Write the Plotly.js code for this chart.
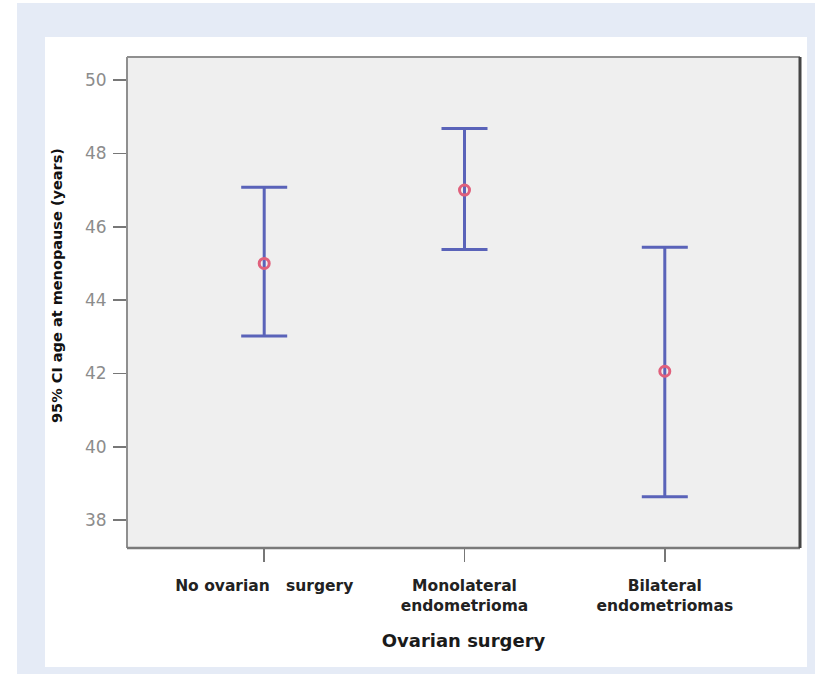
<!DOCTYPE html>
<html>
<head>
<meta charset="utf-8">
<script src="https://cdn.plot.ly/plotly-3.0.1.min.js"></script>
<style>html,body{margin:0;padding:0;background:#fff;}#chart{width:815px;height:674px;}</style>
</head>
<body>
<div id="chart"></div>
<script>
// ---- data ----
const categories = ["No ovarian\u00a0\u00a0 surgery", "Monolateral<br>endometrioma", "Bilateral<br>endometriomas"];
const meanAge = [45.0, 47.0, 42.06];
const upperCI = [47.08, 48.68, 45.44];
const lowerCI = [43.02, 45.38, 38.64];
const yTickVals = [38, 40, 42, 44, 46, 48, 50];
const xTitle = "Ovarian surgery";
const yTitle = "95% CI age at menopause (years)";

// ---- layout helpers (pixel -> paper) ----
const W = 815, H = 674, L = 127, R = 15, T = 57, B = 126;
const pw = W - L - R, ph = H - T - B;
const px = v => (v - L) / pw;
const py = v => (H - B - v) / ph;

const errPlus = upperCI.map((u, i) => u - meanAge[i]);
const errMinus = lowerCI.map((l, i) => meanAge[i] - l);

const trace = {
  type: "scatter",
  mode: "markers",
  x: categories,
  y: meanAge,
  error_y: {type: "data", symmetric: false, array: errPlus, arrayminus: errMinus,
            color: "#5a63b9", thickness: 3, width: 23},
  marker: {symbol: "circle-open", size: 10, color: "#e0607c", line: {width: 3, color: "#e0607c"}},
  hoverinfo: "skip",
  showlegend: false
};

const font = "DejaVu Sans, Verdana, sans-serif";

const layout = {
  width: W, height: H,
  margin: {l: L, r: R, t: T, b: B, pad: 0},
  paper_bgcolor: "#e5ebf6",
  plot_bgcolor: "rgba(0,0,0,0)",
  showlegend: false,
  xaxis: {
    type: "category",
    range: [-0.685, 2.675],
    showgrid: false, zeroline: false, showline: false,
    ticks: "outside", ticklen: 13, tickwidth: 1.5, tickcolor: "#777",
    ticklabelstandoff: 10,
    tickfont: {family: font, size: 15.5, color: "#222", weight: "bold"},
    title: {text: xTitle, font: {family: font, size: 18, color: "#1a1a1a", weight: "bold"}, standoff: 20},
    fixedrange: true
  },
  yaxis: {
    range: [37.24, 50.63],
    tickvals: yTickVals,
    showgrid: false, zeroline: false, showline: false,
    ticks: "outside", ticklen: 13, tickwidth: 1.5, tickcolor: "#777",
    ticklabelstandoff: 3,
    tickfont: {family: font, size: 17, color: "#8c8c8c"},
    fixedrange: true
  },
  annotations: [{
    text: yTitle, textangle: -90, showarrow: false,
    xref: "paper", yref: "paper", x: px(57), y: py(286),
    xanchor: "center", yanchor: "middle",
    font: {family: font, size: 14.5, color: "#111", weight: "bold"}
  }],
  shapes: [
    // white strips at the page edge
    {type: "rect", xref: "paper", yref: "paper", layer: "below", x0: px(0), x1: px(17), y0: py(H), y1: py(0), fillcolor: "#ffffff", line: {width: 0}},
    {type: "rect", xref: "paper", yref: "paper", layer: "below", x0: px(0), x1: px(W), y0: py(3), y1: py(0), fillcolor: "#ffffff", line: {width: 0}},
    // white inner panel
    {type: "rect", xref: "paper", yref: "paper", layer: "below", x0: px(45), x1: px(807), y0: py(667), y1: py(37), fillcolor: "#ffffff", line: {width: 0}},
    // plot area background
    {type: "rect", xref: "paper", yref: "paper", layer: "below", x0: 0, x1: 1, y0: 0, y1: 1, fillcolor: "#efefef", line: {width: 0}},
    // frame
    {type: "line", xref: "paper", yref: "paper", x0: 0, x1: 1, y0: 1, y1: 1, line: {color: "#8f8f8f", width: 2}},
    {type: "line", xref: "paper", yref: "paper", x0: 0, x1: 0, y0: 0, y1: 1, line: {color: "#8f8f8f", width: 2}},
    {type: "line", xref: "paper", yref: "paper", x0: 0, x1: 1, y0: 0, y1: 0, line: {color: "#7a7a7a", width: 2.5}},
    {type: "line", xref: "paper", yref: "paper", x0: 1, x1: 1, y0: 0, y1: 1, line: {color: "#454545", width: 3}}
  ]
};

Plotly.newPlot("chart", [trace], layout, {displayModeBar: false, staticPlot: true});
</script>
</body>
</html>
